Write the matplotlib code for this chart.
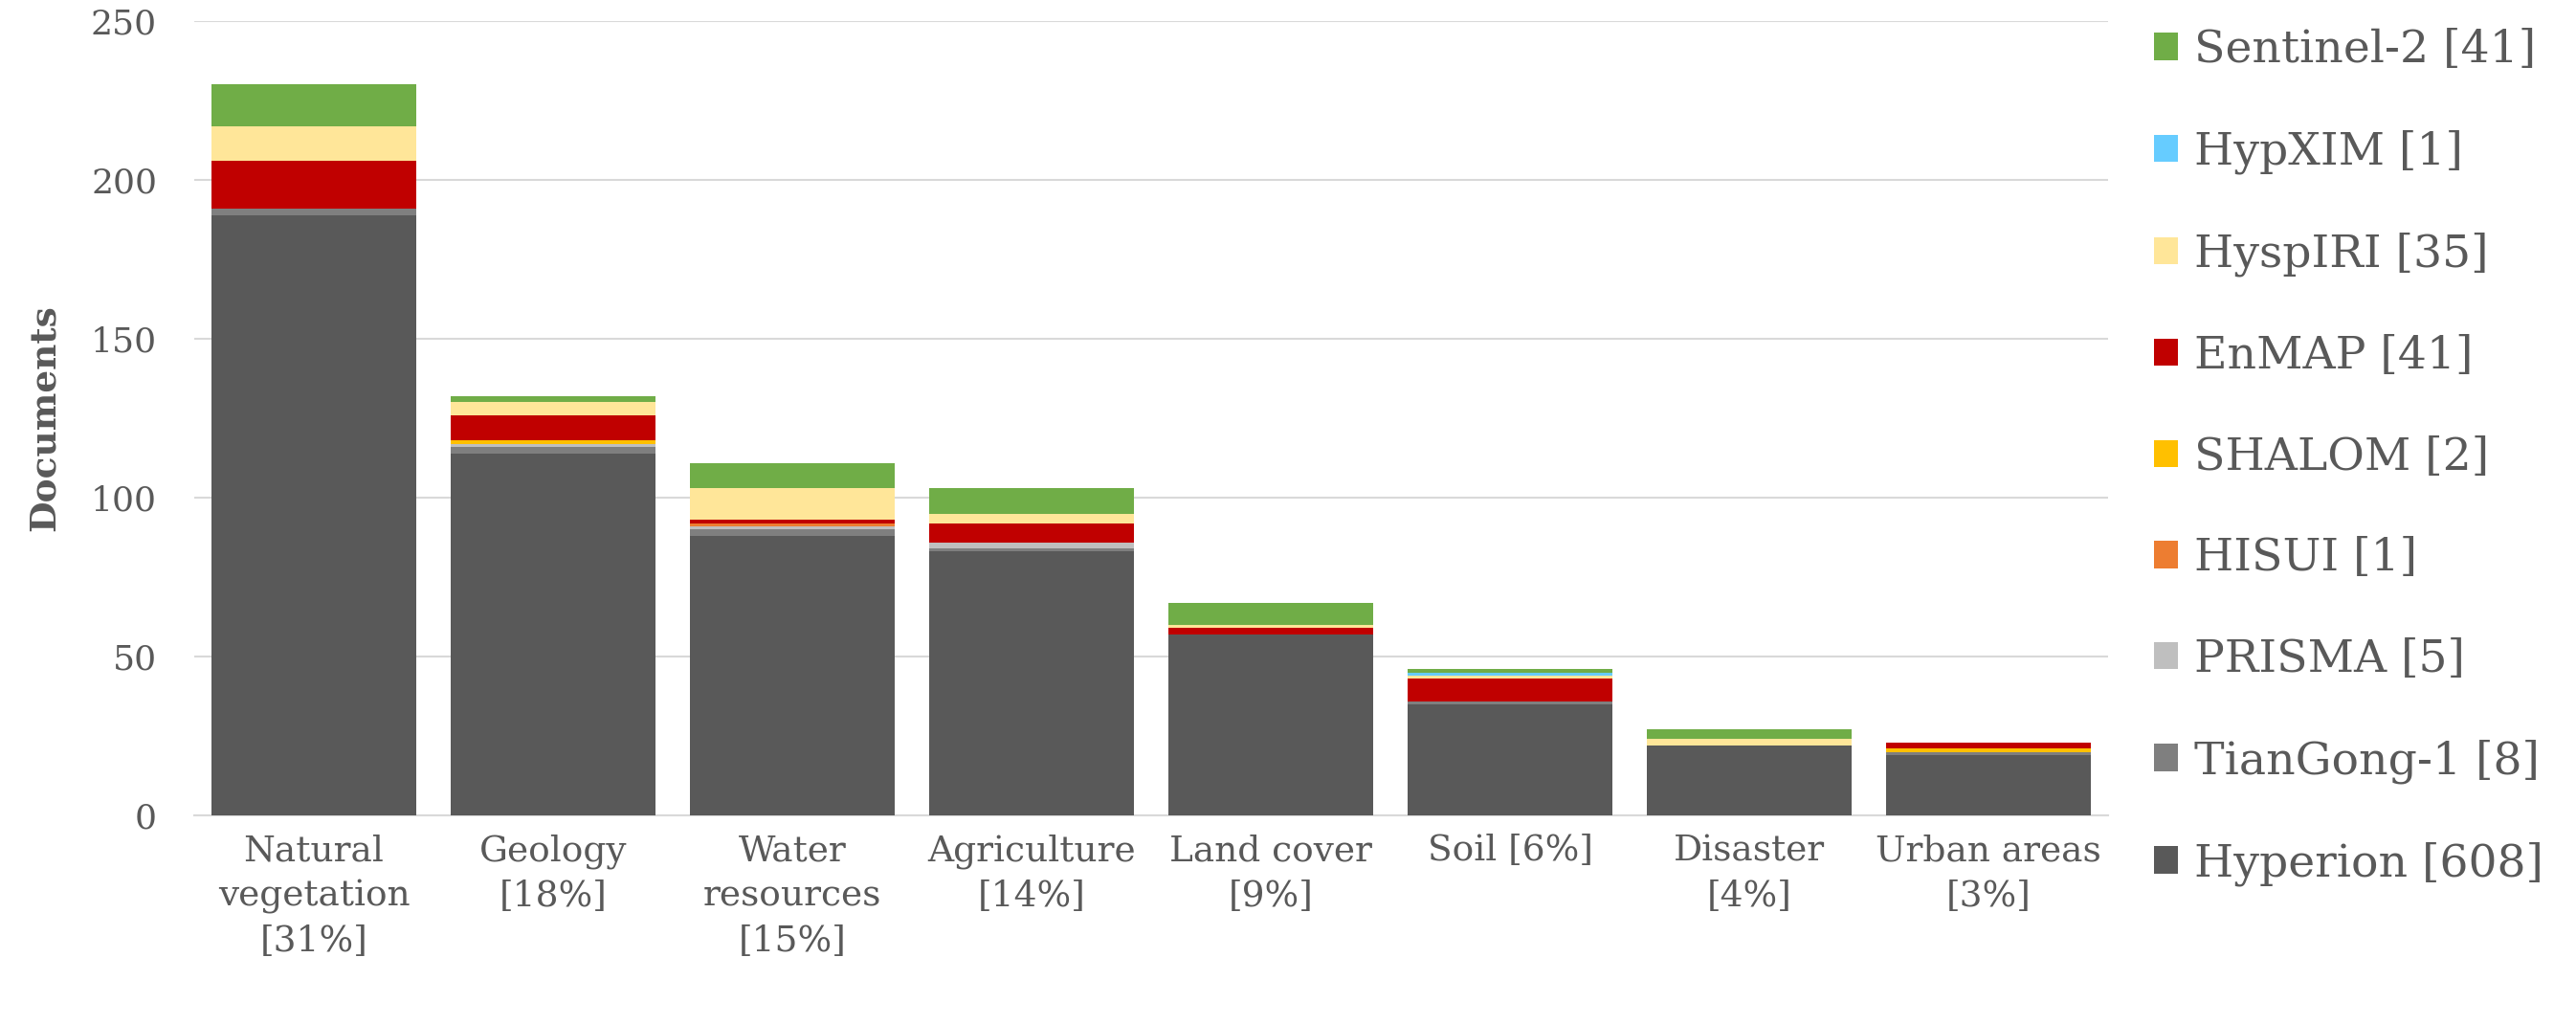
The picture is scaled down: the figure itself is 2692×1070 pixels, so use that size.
import numpy as np
import matplotlib.pyplot as plt

# Категории и доли
categories = ["Natural\nvegetation\n[31%]", "Geology\n[18%]", "Water\nresources\n[15%]",
              "Agriculture\n[14%]", "Land cover\n[9%]", "Soil [6%]", "Disaster\n[4%]",
              "Urban areas\n[3%]"]

# Количество документов по сенсорам (снизу вверх)
hyperion   = [189, 114, 88, 83, 57, 35, 22, 19]
tiangong   = [2, 2, 2, 1, 0, 1, 0, 1]
prisma     = [0, 1, 1, 2, 0, 0, 0, 0]
hisui      = [0, 0, 1, 0, 0, 0, 0, 0]
shalom     = [0, 1, 0, 0, 0, 0, 0, 1]
enmap      = [15, 8, 1, 6, 2, 7, 0, 2]
hyspiri    = [11, 4, 10, 3, 1, 1, 2, 0]
hypxim     = [0, 0, 0, 0, 0, 1, 0, 0]
sentinel2  = [13, 2, 8, 8, 7, 1, 3, 0]

series = [
    ("Hyperion [608]", hyperion, "#595959"),
    ("TianGong-1 [8]", tiangong, "#7F7F7F"),
    ("PRISMA [5]", prisma, "#BFBFBF"),
    ("HISUI [1]", hisui, "#ED7D31"),
    ("SHALOM [2]", shalom, "#FFC000"),
    ("EnMAP [41]", enmap, "#C00000"),
    ("HyspIRI [35]", hyspiri, "#FFE699"),
    ("HypXIM [1]", hypxim, "#66CCFF"),
    ("Sentinel-2 [41]", sentinel2, "#70AD47"),
]

plt.rcParams['font.family'] = ['DejaVu Serif']
text_color = "#595959"

fig = plt.figure(figsize=(26.92, 10.70), dpi=100)
ax = fig.add_axes([0.0754, 0.2037, 0.7430, 0.7757])

x = np.arange(len(categories))
bottom = np.zeros(len(categories))
handles = []
for name, vals, color in series:
    b = ax.bar(x, vals, 0.856, bottom=bottom, color=color, label=name, zorder=3)
    handles.append(b)
    bottom += np.array(vals)

ax.set_xlim(-0.5, len(categories) - 0.5)
ax.set_ylim(0, 250)
ax.set_yticks(range(0, 251, 50))
ax.yaxis.grid(True, color="#D9D9D9", linewidth=1.5, zorder=0)
ax.set_axisbelow(True)
for s in ["top", "right", "left"]:
    ax.spines[s].set_visible(False)
ax.spines["bottom"].set_color("#D9D9D9")
ax.spines["bottom"].set_linewidth(1.5)
ax.tick_params(axis="both", length=0, labelsize=26, colors=text_color)
ax.tick_params(axis="x", pad=14, labelsize=27)
ax.tick_params(axis="y", pad=28)
ax.set_xticks(x)
ax.set_xticklabels(categories, linespacing=1.4)
ax.set_ylabel("Documents", fontsize=27, fontweight="bold", color=text_color, labelpad=22)

fig.legend(handles[::-1], [s[0] for s in series[::-1]], loc="upper left",
           bbox_to_anchor=(0.836, 0.972), frameon=False, fontsize=34,
           labelcolor=text_color, handlelength=0.55, handleheight=0.55,
           labelspacing=1.28, handletextpad=0.35, borderpad=0, borderaxespad=0)

fig.savefig("out.png", dpi=100)
